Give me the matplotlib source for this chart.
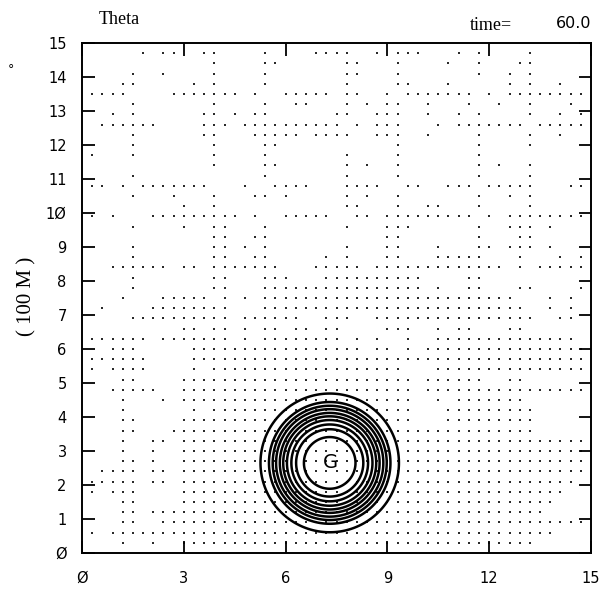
import numpy as np
import matplotlib.pyplot as plt

# bubble centre and contour radii (in 100 m units)
xc, yc = 7.3, 2.65
radii = [0.76, 0.99, 1.13, 1.26, 1.37, 1.47, 1.58, 1.68, 1.79, 2.04]

x_ticks = [0, 3, 6, 9, 12, 15]
x_labels = ['Ø', '3', '6', '9', '12', '15']
y_ticks = list(range(16))
y_labels = ['Ø', '1', '2', '3', '4', '5', '6', '7', '8', '9',
            '1Ø', '11', '12', '13', '14', '15']

# grid of the small-vector dots, 0.3 spacing; one entry per row from the top,
# listing the column indices (1..49) that carry a dot
dot_rows = [
    "6,8-9,12-13,18,23-26,29,31-33,37,39,44",
    "13,18-19,26-27,31,36,39,43-44",
    "5,8,13,18,26-27,31,39,42,44",
    "4-5,11,13,18,26,31-32,36,42,44,47",
    "1-4,9-15,17,20-24,26-27,30,32-38,40,42-49",
    "5,13,18,21-22,26,28,30-31,34,38,41,44,48",
    "3,5,12-13,15,17-18,25-26,29-31,34,37,39,44,47,49",
    "2-7,12-14,16-25,27,29-31,35,37-43,45-49",
    "5,12-13,17-21,23-26,29-31,34,39,44,47",
    "5,13,18-19,31,39,44",
    "1,5,13,18,26,31,39",
    "13,18-19,26,28,31,39,41,44",
    "5,18,26,31,39,44",
    "1-2,4,6-12,16,19-22,26-29,32-33,36-38,40-44,48-49",
    "5,9,13,17-18,20,26,28,31,39,42,44",
    "10,13,26-27,31,34-35,39,44",
    "1,3,7-15,17,20-24,27-28,30-38,40,42-49",
    "5,10,13-14,18,26,30-32,39,42-44,46",
    "13-14,17-18,30-31,39,43-44",
    "5,13-14,16,18,26,30-31,35,39-40,42-44,46",
    "5,13-14,17-18,24,26,30-31,35-39,43,47,49",
    "3-8,10-11,13-19,23-27,29-41,43,45-49",
    "5,13-14,18-20,24-33,38-39",
    "5,13-14,18-33,35,38-39,43-44,49",
    "4,8-12,14,16,18-42,46,48",
    "2,7-14,18-43,46,48",
    "5-14,16-21,24-26,29-44,47-48",
    "10-11,13-14,16,18-19,21-22,24-25,30-32,35,37-38,42-43",
    "1-6,8-14,16,18-25,27,29,32,35-48",
    "3-5,11-27,29-30,32,34-49",
    "1-6,11-49",
    "1,3-6,11,13-31,35-49",
    "4-5,10-32,34-39,42-43",
    "3-7,10-32,34-49",
    "4,8,10-32,35,37-43",
    "4,11,13-19,29-32,36-44",
    "4-5,10-19,30-32,36-44",
    "4-5,9-19,31-44",
    "4,7-8,10-18,31-49",
    "4,7,10-18,31-49",
    "4-5,7,10-18,31-49",
    "2-5,7-8,10-18,31-49",
    "1-5,7-8,10-18,31-48",
    "1,3-5,10-18,31-47",
    "4-5,10-19,30-46",
    "4-5,7-45",
    "4-5,8-49",
    "1,3-46",
    "4,7,10-44",
]


def parse_cols(spec):
    cols = []
    for part in spec.split(','):
        if '-' in part:
            a, b = part.split('-')
            cols.extend(range(int(a), int(b) + 1))
        else:
            cols.append(int(part))
    return cols


dot_x, dot_y = [], []
for j, spec in enumerate(dot_rows, start=1):
    for k in parse_cols(spec):
        dot_x.append(0.3 * k)
        dot_y.append(15 - 0.3 * j)
# points inside the bubble also carry dots
for j in range(1, 50):
    for k in range(1, 50):
        if np.hypot(0.3 * k - xc, 15 - 0.3 * j - yc) < radii[-1]:
            dot_x.append(0.3 * k)
            dot_y.append(15 - 0.3 * j)

fig = plt.figure(figsize=(6.03, 5.94), dpi=100)
ax = fig.add_axes([82 / 603, 41 / 594, 509 / 603, 510 / 594])

ax.scatter(dot_x, dot_y, s=2.4, marker='s', color='#2a2a2a', linewidths=0)

gx = np.linspace(0, 15, 601)
gy = np.linspace(0, 15, 601)
X, Y = np.meshgrid(gx, gy)
R = np.hypot(X - xc, Y - yc)
ax.contour(X, Y, R, levels=radii, colors='k', linewidths=1.8)
ax.text(xc + 0.02, yc, 'G', ha='center', va='center', fontsize=14)

ax.set_xlim(0, 15)
ax.set_ylim(0, 15)
ax.set_xticks(x_ticks)
ax.set_xticklabels(x_labels)
ax.set_yticks(y_ticks)
ax.set_yticklabels(y_labels)
ax.tick_params(direction='in', length=9, width=1.3, top=True, right=True,
               labelsize=10.5)
ax.tick_params(axis='x', pad=13)
ax.tick_params(axis='y', pad=11)
for s in ax.spines.values():
    s.set_linewidth(1.4)

fig.text(99 / 603, 1 - 19 / 594, 'Theta', family='Liberation Serif',
         fontsize=13, va='center', ha='left')
fig.text(470 / 603, 1 - 25 / 594, 'time=', family='Liberation Serif',
         fontsize=13, va='center', ha='left')
fig.text(591 / 603, 1 - 24 / 594, '60.0', fontsize=11.5, va='center', ha='right')
fig.text(27 / 603, 1 - 296 / 594, '( 100 M )', family='Liberation Serif',
         fontsize=15, rotation=90, va='center', ha='center')
fig.text(11 / 603, 1 - 70 / 594, '°', fontsize=9, va='center', ha='center')

fig.savefig('out.png', dpi=100)
